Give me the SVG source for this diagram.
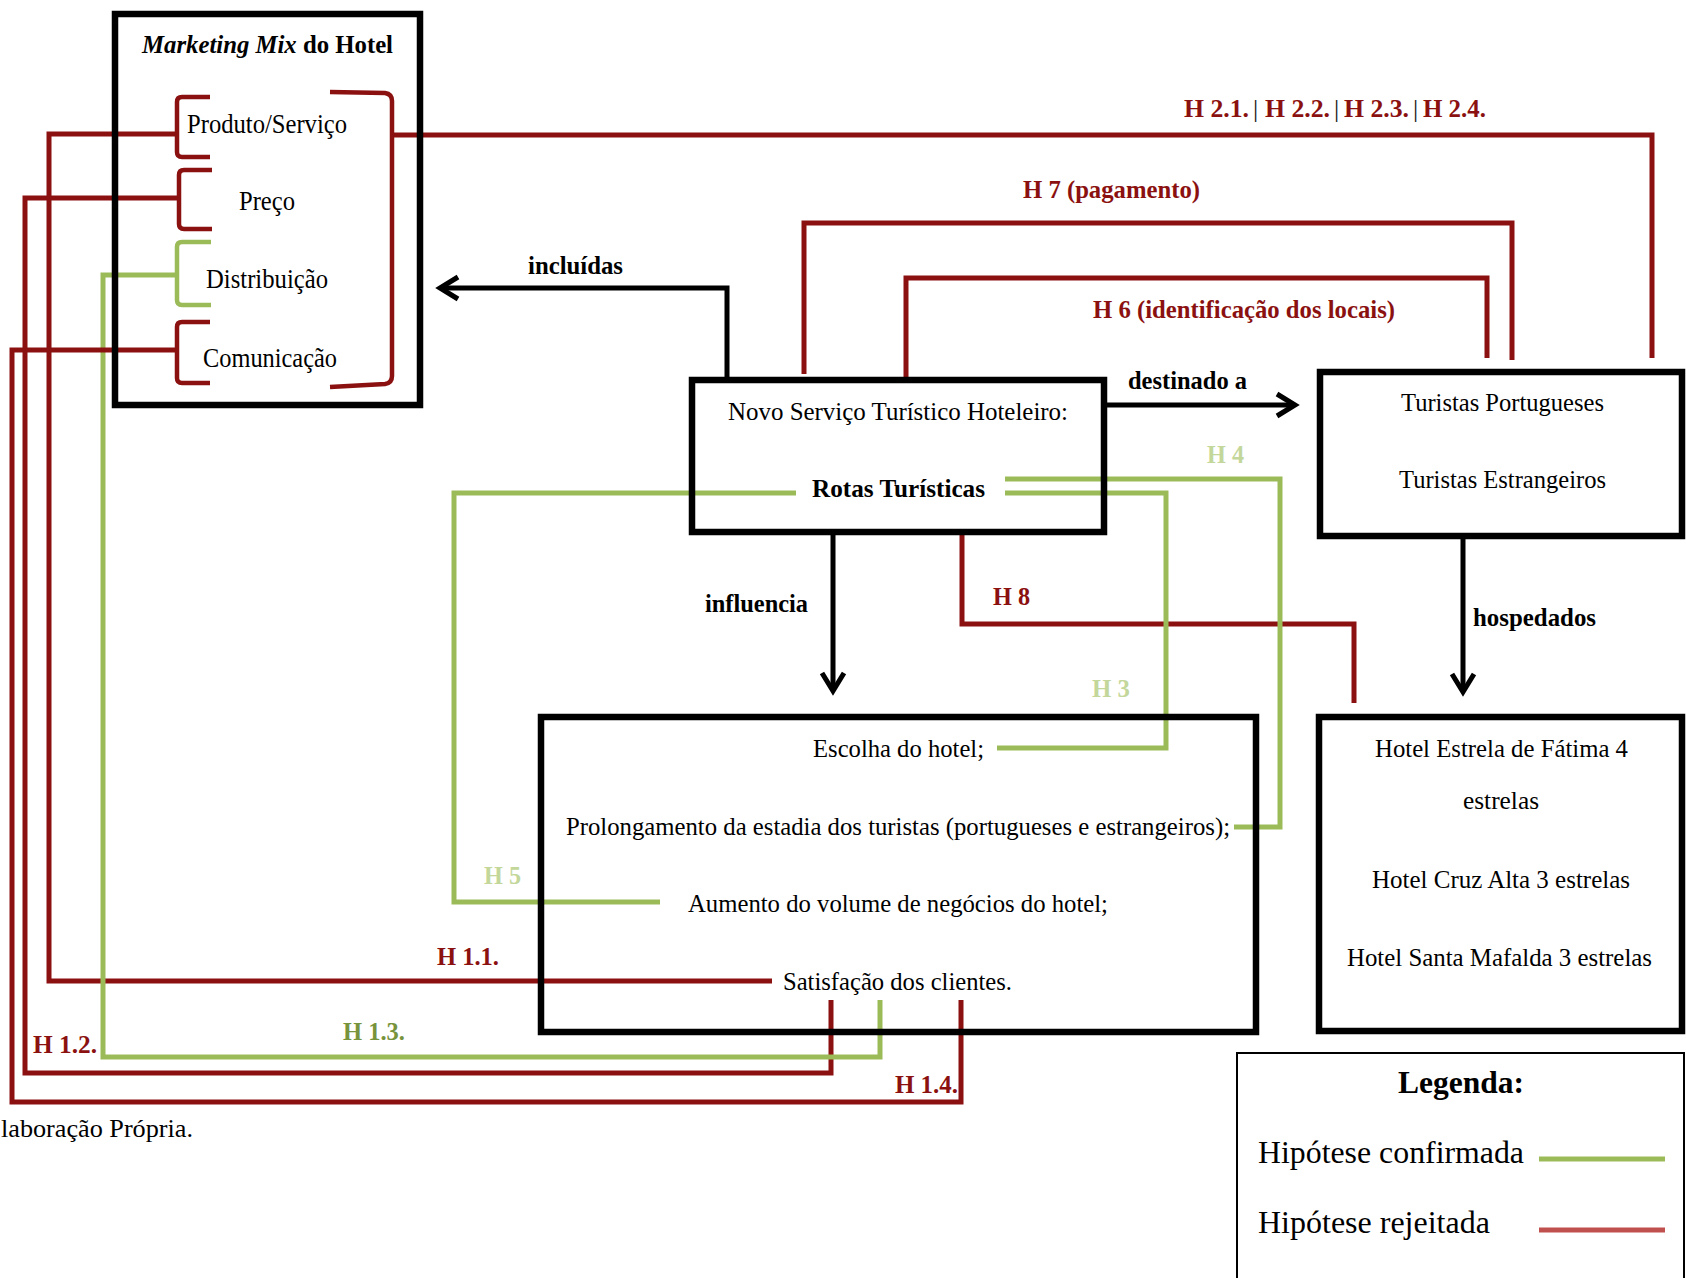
<svg xmlns="http://www.w3.org/2000/svg" width="1686" height="1278" viewBox="0 0 1686 1278">
<defs>
<style>
.box{fill:none;stroke:#000;stroke-width:6.5}
.t{font-family:"Liberation Serif","Times New Roman",serif;font-size:26px;fill:#000}
.b{font-weight:bold}
.red{fill:none;stroke:#8b1111;stroke-width:5}
.grn{fill:none;stroke:#9bbb59;stroke-width:5}
.brk{fill:none;stroke-width:4.5;stroke-linejoin:round}
.hr{fill:#8b1111;font-weight:bold}
.hg{fill:#c4d79b;font-weight:bold}
.ho{fill:#77933c;font-weight:bold}
.pipe{fill:#222}
.arw{fill:none;stroke:#000;stroke-width:5;marker-end:url(#arr)}
</style>
<marker id="arr" viewBox="0 0 24 28" refX="21" refY="14" markerWidth="24" markerHeight="28" markerUnits="userSpaceOnUse" orient="auto" overflow="visible">
<path d="M3 3 L21 14 L3 25" fill="none" stroke="#000" stroke-width="5"/>
</marker>
</defs>
<rect width="1686" height="1278" fill="#fff"/>

<g id="connectors">
  <path class="red" d="M177 134 H49 V981 H772"/>
  <path class="red" d="M179 198 H25 V1073 H831 V1000"/>
  <path class="grn" d="M177 275 H103 V1057 H880 V1000"/>
  <path class="red" d="M177 350 H12 V1102 H961 V1000"/>
  <path class="red" d="M392 135 H1652 V358"/>
  <path class="red" d="M804 374 V223 H1512 V360"/>
  <path class="red" d="M906 377 V278 H1487 V358"/>
  <path class="red" d="M962 535 V624 H1354 V703"/>
  <path class="grn" d="M1005 493 H1166 V748 H997"/>
  <path class="grn" d="M1005 479 H1280 V827 H1234"/>
  <path class="grn" d="M796 493 H454 V902 H660"/>
  <path class="arw" d="M727 377 V288 H440"/>
  <path class="arw" d="M1107 405 H1295"/>
  <path class="arw" d="M833 535 V691"/>
  <path class="arw" d="M1463 539 V692"/>
  <text class="t b" x="528" y="274" textLength="95" lengthAdjust="spacingAndGlyphs">incluídas</text>
  <text class="t b" x="1128" y="389" textLength="119" lengthAdjust="spacingAndGlyphs">destinado a</text>
  <text class="t b" x="705" y="612" textLength="103" lengthAdjust="spacingAndGlyphs">influencia</text>
  <text class="t b" x="1473" y="626" textLength="123" lengthAdjust="spacingAndGlyphs">hospedados</text>
  <text class="t hr" x="1184" y="117" textLength="65" lengthAdjust="spacingAndGlyphs">H 2.1.</text>
  <text class="t pipe" x="1253" y="117">|</text>
  <text class="t hr" x="1265" y="117" textLength="65" lengthAdjust="spacingAndGlyphs">H 2.2.</text>
  <text class="t pipe" x="1334" y="117">|</text>
  <text class="t hr" x="1344" y="117" textLength="65" lengthAdjust="spacingAndGlyphs">H 2.3.</text>
  <text class="t pipe" x="1413" y="117">|</text>
  <text class="t hr" x="1423" y="117" textLength="63" lengthAdjust="spacingAndGlyphs">H 2.4.</text>
  <text class="t hr" x="1023" y="198" textLength="177" lengthAdjust="spacingAndGlyphs">H 7 (pagamento)</text>
  <text class="t hr" x="1093" y="318" textLength="302" lengthAdjust="spacingAndGlyphs">H 6 (identificação dos locais)</text>
  <text class="t hr" x="993" y="605" textLength="37" lengthAdjust="spacingAndGlyphs">H 8</text>
  <text class="t hg" x="1092" y="697" textLength="38" lengthAdjust="spacingAndGlyphs">H 3</text>
  <text class="t hg" x="1207" y="463" textLength="37" lengthAdjust="spacingAndGlyphs">H 4</text>
  <text class="t hg" x="484" y="884" textLength="37" lengthAdjust="spacingAndGlyphs">H 5</text>
  <text class="t hr" x="437" y="965" textLength="62" lengthAdjust="spacingAndGlyphs" style="font-size:25px">H 1.1.</text>
  <text class="t hr" x="33" y="1053" textLength="64" lengthAdjust="spacingAndGlyphs" style="font-size:25px">H 1.2.</text>
  <text class="t ho" x="343" y="1040" textLength="62" lengthAdjust="spacingAndGlyphs" style="font-size:25px">H 1.3.</text>
  <text class="t hr" x="895" y="1093" textLength="63" lengthAdjust="spacingAndGlyphs" style="font-size:25px">H 1.4.</text>
</g>

<g id="marketing-mix">
  <rect class="box" x="115" y="14" width="305" height="391"/>
  <text class="t b" x="142" y="53" textLength="251" lengthAdjust="spacingAndGlyphs"><tspan font-style="italic">Marketing Mix</tspan> do Hotel</text>
  <path class="brk" stroke="#8b1111" d="M210 97 H182 Q177 97 177 102 V152 Q177 157 182 157 H210"/>
  <path class="brk" stroke="#8b1111" d="M212 170 H184 Q179 170 179 175 V224 Q179 229 184 229 H212"/>
  <path class="brk" stroke="#9bbb59" d="M211 242 H182 Q177 242 177 247 V300 Q177 305 182 305 H211"/>
  <path class="brk" stroke="#8b1111" d="M210 322 H182 Q177 322 177 327 V378 Q177 383 182 383 H210"/>
  <path class="brk" stroke="#8b1111" d="M330 92 L385 93 Q392 94 392 101 V376 Q392 383 385 384 L330 387"/>
  <text class="t" x="187" y="133" textLength="160" lengthAdjust="spacingAndGlyphs" style="font-size:27px">Produto/Serviço</text>
  <text class="t" x="239" y="210" textLength="56" lengthAdjust="spacingAndGlyphs" style="font-size:27px">Preço</text>
  <text class="t" x="206" y="288" textLength="122" lengthAdjust="spacingAndGlyphs" style="font-size:27px">Distribuição</text>
  <text class="t" x="203" y="367" textLength="134" lengthAdjust="spacingAndGlyphs" style="font-size:27px">Comunicação</text>
</g>

<g id="novo-servico">
  <rect class="box" x="692" y="380" width="412" height="152"/>
  <text class="t" x="728" y="420" textLength="340" lengthAdjust="spacingAndGlyphs">Novo Serviço Turístico Hoteleiro:</text>
  <text class="t b" x="812" y="497" textLength="173" lengthAdjust="spacingAndGlyphs">Rotas Turísticas</text>
</g>

<g id="turistas">
  <rect class="box" x="1320" y="372" width="362" height="164"/>
  <text class="t" x="1401" y="411" textLength="203" lengthAdjust="spacingAndGlyphs">Turistas Portugueses</text>
  <text class="t" x="1399" y="488" textLength="207" lengthAdjust="spacingAndGlyphs">Turistas Estrangeiros</text>
</g>

<g id="hoteis">
  <rect class="box" x="1319" y="717" width="363" height="314"/>
  <text class="t" x="1375" y="757" textLength="253" lengthAdjust="spacingAndGlyphs">Hotel Estrela de Fátima 4</text>
  <text class="t" x="1463" y="809" textLength="76" lengthAdjust="spacingAndGlyphs">estrelas</text>
  <text class="t" x="1372" y="888" textLength="258" lengthAdjust="spacingAndGlyphs">Hotel Cruz Alta 3 estrelas</text>
  <text class="t" x="1347" y="966" textLength="305" lengthAdjust="spacingAndGlyphs">Hotel Santa Mafalda 3 estrelas</text>
</g>

<g id="resultados">
  <rect class="box" x="541" y="717" width="715" height="315"/>
  <text class="t" x="813" y="757" textLength="171" lengthAdjust="spacingAndGlyphs">Escolha do hotel;</text>
  <text class="t" x="566" y="835" textLength="664" lengthAdjust="spacingAndGlyphs">Prolongamento da estadia dos turistas (portugueses e estrangeiros);</text>
  <text class="t" x="688" y="912" textLength="420" lengthAdjust="spacingAndGlyphs">Aumento do volume de negócios do hotel;</text>
  <text class="t" x="783" y="990" textLength="229" lengthAdjust="spacingAndGlyphs">Satisfação dos clientes.</text>
</g>

<g id="fonte">
  <text class="t" x="1" y="1137" textLength="192" lengthAdjust="spacingAndGlyphs">laboração Própria.</text>
</g>

<g id="legenda">
  <rect x="1237" y="1053" width="447" height="240" fill="none" stroke="#000" stroke-width="2"/>
  <text class="t b" x="1398" y="1093" style="font-size:32px" textLength="126" lengthAdjust="spacingAndGlyphs">Legenda:</text>
  <text class="t" x="1258" y="1163" style="font-size:32px" textLength="266" lengthAdjust="spacingAndGlyphs">Hipótese confirmada</text>
  <text class="t" x="1258" y="1233" style="font-size:32px">Hipótese rejeitada</text>
  <line x1="1539" y1="1159" x2="1665" y2="1159" stroke="#9bbb59" stroke-width="5"/>
  <line x1="1539" y1="1230" x2="1665" y2="1230" stroke="#c0504d" stroke-width="5"/>
</g>
</svg>
